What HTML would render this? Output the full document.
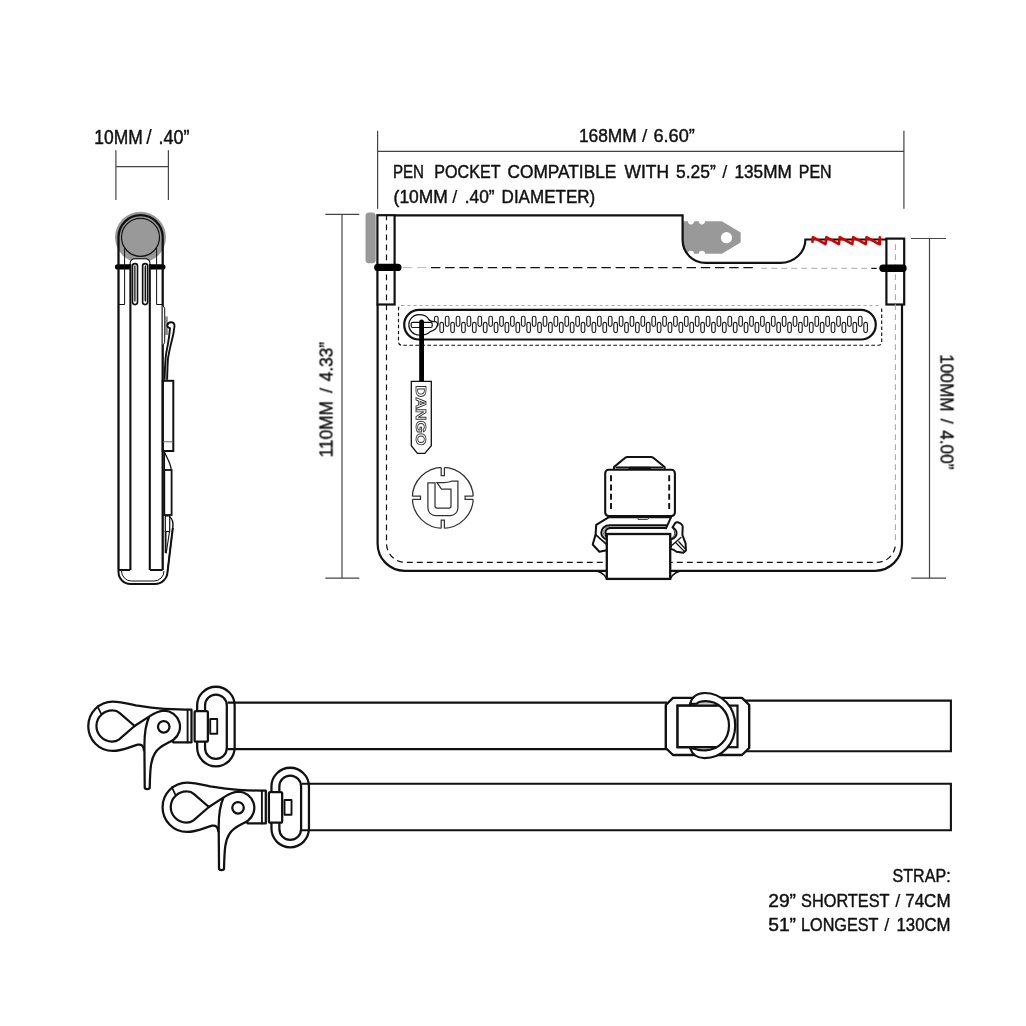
<!DOCTYPE html>
<html lang="en">
<head>
<meta charset="utf-8">
<title>Dango pouch dimensions</title>
<style>
html,body{margin:0;padding:0;background:#fff;}
body{width:1026px;height:1026px;overflow:hidden;}
svg{display:block;}
text{font-family:"Liberation Sans",sans-serif;}
</style>
</head>
<body>
<svg width="1026" height="1026" viewBox="0 0 1026 1026">
<rect width="1026" height="1026" fill="#fff"/>
<g id="labels" font-family="Liberation Sans, sans-serif" opacity="0.999">
<g font-size="19.7" fill="#111" stroke="#111" stroke-width="0.45" stroke-linejoin="round"><text x="94.3" y="144.1" textLength="48.5" lengthAdjust="spacingAndGlyphs">10MM</text> <text x="149.0" y="144.1" text-anchor="middle" stroke-width="0.2">/</text> <text x="158.4" y="144.1" textLength="31.1" lengthAdjust="spacingAndGlyphs">.40&#8221;</text> </g>
<g font-size="19.1" fill="#111" stroke="#111" stroke-width="0.45" stroke-linejoin="round"><text x="578.9" y="141.8" textLength="57.9" lengthAdjust="spacingAndGlyphs">168MM</text> <text x="644.7" y="141.8" text-anchor="middle" stroke-width="0.2">/</text> <text x="653.5" y="141.8" textLength="41.3" lengthAdjust="spacingAndGlyphs">6.60&#8221;</text> </g>
<g font-size="18.2" fill="#111" stroke="#111" stroke-width="0.45" stroke-linejoin="round"><text x="392.9" y="178.4" textLength="31.1" lengthAdjust="spacingAndGlyphs">PEN</text> <text x="434.3" y="178.4" textLength="66.2" lengthAdjust="spacingAndGlyphs">POCKET</text> <text x="507.5" y="178.4" textLength="108.8" lengthAdjust="spacingAndGlyphs">COMPATIBLE</text> <text x="624.6" y="178.4" textLength="44.4" lengthAdjust="spacingAndGlyphs">WITH</text> <text x="676" y="178.4" textLength="39.8" lengthAdjust="spacingAndGlyphs">5.25&#8221;</text> <text x="724.9" y="178.4" text-anchor="middle" stroke-width="0.2">/</text> <text x="734.5" y="178.4" textLength="57.3" lengthAdjust="spacingAndGlyphs">135MM</text> <text x="798.8" y="178.4" textLength="32.8" lengthAdjust="spacingAndGlyphs">PEN</text> </g>
<g font-size="18.2" fill="#111" stroke="#111" stroke-width="0.45" stroke-linejoin="round"><text x="393.6" y="203" textLength="54.2" lengthAdjust="spacingAndGlyphs">(10MM</text> <text x="454.9" y="203" text-anchor="middle" stroke-width="0.2">/</text> <text x="464.7" y="203" textLength="29.9" lengthAdjust="spacingAndGlyphs">.40&#8221;</text> <text x="501.6" y="203" textLength="93.6" lengthAdjust="spacingAndGlyphs">DIAMETER)</text> </g>
<g transform="translate(332.5 457.4) rotate(-90)">
<g font-size="19.2" fill="#111" stroke="#111" stroke-width="0.45" stroke-linejoin="round"><text x="0" y="0" textLength="56.3" lengthAdjust="spacingAndGlyphs">110MM</text> <text x="66.8" y="0" text-anchor="middle" stroke-width="0.2">/</text> <text x="76" y="0" textLength="39.5" lengthAdjust="spacingAndGlyphs">4.33&#8221;</text> </g>
</g>
<g transform="translate(940.5 354.3) rotate(90)">
<g font-size="19.2" fill="#111" stroke="#111" stroke-width="0.45" stroke-linejoin="round"><text x="0" y="0" textLength="57.3" lengthAdjust="spacingAndGlyphs">100MM</text> <text x="66.8" y="0" text-anchor="middle" stroke-width="0.2">/</text> <text x="76.1" y="0" textLength="39.0" lengthAdjust="spacingAndGlyphs">4.00&#8221;</text> </g>
</g>
<g font-size="18.3" fill="#111" stroke="#111" stroke-width="0.45" stroke-linejoin="round"><text x="892.6" y="882.3" textLength="58.0" lengthAdjust="spacingAndGlyphs">STRAP:</text> </g>
<g font-size="18.3" fill="#111" stroke="#111" stroke-width="0.45" stroke-linejoin="round"><text x="768.2" y="906.7" textLength="27.8" lengthAdjust="spacingAndGlyphs">29&#8221;</text> <text x="801" y="906.7" textLength="88.6" lengthAdjust="spacingAndGlyphs">SHORTEST</text> <text x="897.9" y="906.7" text-anchor="middle" stroke-width="0.2">/</text> <text x="905.2" y="906.7" textLength="45.4" lengthAdjust="spacingAndGlyphs">74CM</text> </g>
<g font-size="18.3" fill="#111" stroke="#111" stroke-width="0.45" stroke-linejoin="round"><text x="768.2" y="930.6" textLength="27.8" lengthAdjust="spacingAndGlyphs">51&#8221;</text> <text x="801" y="930.6" textLength="77.5" lengthAdjust="spacingAndGlyphs">LONGEST</text> <text x="886.7" y="930.6" text-anchor="middle" stroke-width="0.2">/</text> <text x="896.5" y="930.6" textLength="54.1" lengthAdjust="spacingAndGlyphs">130CM</text> </g>
</g>
<g id="dims" stroke="#444" stroke-width="1.2" fill="none">
<path d="M115.9 150.2V199.9M168.4 150.2V199.9M115.9 166.6H168.4"/>
<path d="M377.6 130.8V208.7M903.9 130.8V208.7M377.6 151.4H903.9"/>
<path d="M325.3 214.4H359.3M325.3 578.2H359.3M342 214.4V578.2"/>
<path d="M911 238.5H946M911.3 578.2H946M929.5 238.5V578.2"/>
</g>
<g id="side" fill="none" stroke="#111" stroke-linecap="butt">
<circle cx="140.5" cy="237.3" r="25.5" fill="#999" stroke="none"/>
<path d="M117.6 266.9H162.8" stroke-width="5.4" stroke-linecap="round" stroke="#000"/>
<path d="M130.2 304V263.2a4 4 0 0 1 4-4h11.7a4 4 0 0 1 4 4V304z" fill="#fff" stroke="none"/>
<circle cx="140.5" cy="237.3" r="19" stroke-width="1.2"/>
<path d="M118.5 570.1V237.3a22.1 22.1 0 0 1 44.2 0V570.1" stroke-width="2.3"/>
<path d="M124.6 248V304.5H118.5M156.6 248V304.5H162.7" stroke-width="1"/>
<path d="M130.4 570.1V264M149.8 570.1V264" stroke-width="2.1"/>
<path d="M118.5 570.1H130.2M149.9 570.1H162.7" stroke-width="2"/>
<path d="M130.2 264.5V263.2a4.2 4.2 0 0 1 4.2-4.4h11.3a4.2 4.2 0 0 1 4.2 4.4V264.5" stroke-width="1.1"/>
<rect x="132.5" y="263.6" width="5" height="41" rx="2.5" fill="#fff" stroke-width="1.6"/>
<path d="M134.9 265.5V301.5" stroke-width="1.3"/>
<rect x="142.6" y="263.6" width="5" height="41" rx="2.5" fill="#fff" stroke-width="1.6"/>
<path d="M144 266.5V301" stroke-width="1.6" stroke="#888"/>
<path d="M145.5 265.5V301.5" stroke-width="1.1"/>
<path d="M118.5 570V572a12 12 0 0 0 12 12H155a12.5 12.5 0 0 0 12.5-12L172.8 528" stroke-width="2"/>
<path d="M121.5 571a10 10 0 0 0 10 10H154a10 10 0 0 0 10-10" stroke-width="1"/>
<path d="M162.7 305.2l2 3V342.8l-2 2.4" stroke-width="1" fill="#fff"/>
<rect x="164.8" y="316.4" width="3" height="18.6" fill="#888" stroke="none"/>
<path d="M167.1 379.8C167.3 372 167.5 365 168 358.4C169 352 170 348 171 343.7C172.5 338 173.6 334 173.9 330.1C174.3 327 174.8 326 174.4 324.7C173.8 322.8 172.5 322.2 171 322.3C169 322.4 167.8 323.3 167.5 324.7C167.2 326 167.3 326.5 167.5 326.7C168.3 327.6 169.2 328 170 328.1C169.6 333 168.8 339 168 343.7C167 349 166 353 165.6 358.4C165 366 164.7 372 164.6 379.8" fill="#fff" stroke-width="1.9" stroke-linejoin="round"/>
<rect x="162.7" y="380.8" width="10.6" height="70.2" stroke-width="2"/>
<path d="M163 441.8H173" stroke-width="1" stroke="#666"/>
<path d="M164.4 452C167 458 170.6 463 171.2 469.5M164.4 452V470" stroke-width="1.3"/>
<rect x="164.3" y="470" width="7.3" height="45" stroke-width="1.8"/>
<rect x="165.3" y="516" width="4.4" height="15.5" stroke-width="1.2"/>
<path d="M169.7 516.8C172.5 519 173.5 523 172.8 528L167.5 572" stroke-width="1.4"/>
<path d="M165.6 531V553" stroke-width="1.8"/>
<path d="M169.4 532L166.2 553.5" stroke-width="1.1"/>
</g>
<g id="pouch" fill="none" stroke="#111">
<rect x="365.5" y="212.5" width="10.2" height="50.8" rx="3.5" fill="#999" stroke="none"/>
<path d="M682.8 221.3H687.9a3.1 3.1 0 0 0 6.2 0H698.8a3.1 3.1 0 0 0 6.2 0H721.8L740.7 232.6V242.4L721.8 253.8H705a3.1 3.1 0 0 0-6.2 0H694.1a3.1 3.1 0 0 0-6.2 0H687.5A23 23 0 0 1 682.8 239.8z" fill="#999" stroke="none"/>
<circle cx="726.5" cy="237.7" r="5.6" fill="#fff" stroke="none"/>
<path d="M394.6 215.4H682.6V239.9a23 23 0 0 0 23 23H780.4a25 23.4 0 0 0 25-23.4H886.5" stroke-width="2.2"/>
<path d="M377.6 304.5V543.8a27 27 0 0 0 27 27H606.8M670.2 570.8H875a27 27 0 0 0 27-27V304.5" stroke-width="2.2"/>
<path d="M593 570.8c7 0 11 3 13.8 8M684 570.8c-7 0-11 3-13.8 8" stroke-width="1.4"/>
<rect x="377.4" y="215.2" width="17.2" height="89.3" stroke-width="2.2"/>
<rect x="886.4" y="238.6" width="17.8" height="65.9" stroke-width="2.2"/>
<path d="M386.5 214.4V543.4a19 19 0 0 0 19 19H876.5a19 19 0 0 0 19-19" stroke-width="1.2" stroke-dasharray="5.9 4.1"/>
<path d="M895.4 244.2V543" stroke-width="1.1" stroke="#aaa" stroke-dasharray="5.9 4.1"/>
<path d="M402.9 267.6H428" stroke-width="1" stroke="#bbb" stroke-dasharray="9.4 4.8"/>
<path d="M431 267.6H757" stroke-width="1.2" stroke-dasharray="9.4 4.8"/>
<path d="M761.3 268.4H868" stroke-width="1.1" stroke="#bbb" stroke-dasharray="5.9 4.1"/>
<path d="M871.3 268.4H876.8" stroke-width="1.2"/>
<path d="M377.8 267.4H397.8" stroke-width="7.4" stroke-linecap="round" stroke="#000"/>
<path d="M883 268.2H903" stroke-width="7.4" stroke-linecap="round" stroke="#000"/>
<path d="M812.4 241.8L812.9 237.2L825.5 244.2L826.3 237.2L838.9 244.2L839.7 237.2L852.3 244.2L853.1 237.2L865.7 244.2L866.5 237.2L879.1 244.2L879.9 237.2L879.9 244.2" stroke="#d40000" stroke-width="2.6" stroke-linejoin="round" stroke-linecap="round"/>
<path d="M401.5 305.5H878.7" stroke="#aaa" stroke-width="1" stroke-dasharray="3.1 2.9"/>
<path d="M881.7 308.5V342.2a3 3 0 0 1-3 3H401.5a3 3 0 0 1-3-3V308.5a3 3 0 0 1 3-3" stroke-width="1.15" stroke-dasharray="3.6 2.4"/>
<rect x="404.2" y="309.9" width="471.6" height="29.6" rx="14.8" stroke-width="2.2"/>
<g stroke="#222" stroke-width="1.15" fill="#fff">
<rect x="434.50" y="316.2" width="3.6" height="10.2" rx="1.8"/>
<rect x="445.37" y="316.2" width="3.6" height="10.2" rx="1.8"/>
<rect x="456.24" y="316.2" width="3.6" height="10.2" rx="1.8"/>
<rect x="467.11" y="316.2" width="3.6" height="10.2" rx="1.8"/>
<rect x="477.98" y="316.2" width="3.6" height="10.2" rx="1.8"/>
<rect x="488.85" y="316.2" width="3.6" height="10.2" rx="1.8"/>
<rect x="499.72" y="316.2" width="3.6" height="10.2" rx="1.8"/>
<rect x="510.59" y="316.2" width="3.6" height="10.2" rx="1.8"/>
<rect x="521.46" y="316.2" width="3.6" height="10.2" rx="1.8"/>
<rect x="532.33" y="316.2" width="3.6" height="10.2" rx="1.8"/>
<rect x="543.20" y="316.2" width="3.6" height="10.2" rx="1.8"/>
<rect x="554.07" y="316.2" width="3.6" height="10.2" rx="1.8"/>
<rect x="564.94" y="316.2" width="3.6" height="10.2" rx="1.8"/>
<rect x="575.81" y="316.2" width="3.6" height="10.2" rx="1.8"/>
<rect x="586.68" y="316.2" width="3.6" height="10.2" rx="1.8"/>
<rect x="597.55" y="316.2" width="3.6" height="10.2" rx="1.8"/>
<rect x="608.42" y="316.2" width="3.6" height="10.2" rx="1.8"/>
<rect x="619.29" y="316.2" width="3.6" height="10.2" rx="1.8"/>
<rect x="630.16" y="316.2" width="3.6" height="10.2" rx="1.8"/>
<rect x="641.03" y="316.2" width="3.6" height="10.2" rx="1.8"/>
<rect x="651.90" y="316.2" width="3.6" height="10.2" rx="1.8"/>
<rect x="662.77" y="316.2" width="3.6" height="10.2" rx="1.8"/>
<rect x="673.64" y="316.2" width="3.6" height="10.2" rx="1.8"/>
<rect x="684.51" y="316.2" width="3.6" height="10.2" rx="1.8"/>
<rect x="695.38" y="316.2" width="3.6" height="10.2" rx="1.8"/>
<rect x="706.25" y="316.2" width="3.6" height="10.2" rx="1.8"/>
<rect x="717.12" y="316.2" width="3.6" height="10.2" rx="1.8"/>
<rect x="727.99" y="316.2" width="3.6" height="10.2" rx="1.8"/>
<rect x="738.86" y="316.2" width="3.6" height="10.2" rx="1.8"/>
<rect x="749.73" y="316.2" width="3.6" height="10.2" rx="1.8"/>
<rect x="760.60" y="316.2" width="3.6" height="10.2" rx="1.8"/>
<rect x="771.47" y="316.2" width="3.6" height="10.2" rx="1.8"/>
<rect x="782.34" y="316.2" width="3.6" height="10.2" rx="1.8"/>
<rect x="793.21" y="316.2" width="3.6" height="10.2" rx="1.8"/>
<rect x="804.08" y="316.2" width="3.6" height="10.2" rx="1.8"/>
<rect x="814.95" y="316.2" width="3.6" height="10.2" rx="1.8"/>
<rect x="825.82" y="316.2" width="3.6" height="10.2" rx="1.8"/>
<rect x="836.69" y="316.2" width="3.6" height="10.2" rx="1.8"/>
<rect x="847.56" y="316.2" width="3.6" height="10.2" rx="1.8"/>
<rect x="858.43" y="316.2" width="3.6" height="10.2" rx="1.8"/>
<rect x="439.90" y="322.4" width="3.6" height="10.2" rx="1.8"/>
<rect x="450.77" y="322.4" width="3.6" height="10.2" rx="1.8"/>
<rect x="461.64" y="322.4" width="3.6" height="10.2" rx="1.8"/>
<rect x="472.51" y="322.4" width="3.6" height="10.2" rx="1.8"/>
<rect x="483.38" y="322.4" width="3.6" height="10.2" rx="1.8"/>
<rect x="494.25" y="322.4" width="3.6" height="10.2" rx="1.8"/>
<rect x="505.12" y="322.4" width="3.6" height="10.2" rx="1.8"/>
<rect x="515.99" y="322.4" width="3.6" height="10.2" rx="1.8"/>
<rect x="526.86" y="322.4" width="3.6" height="10.2" rx="1.8"/>
<rect x="537.73" y="322.4" width="3.6" height="10.2" rx="1.8"/>
<rect x="548.60" y="322.4" width="3.6" height="10.2" rx="1.8"/>
<rect x="559.47" y="322.4" width="3.6" height="10.2" rx="1.8"/>
<rect x="570.34" y="322.4" width="3.6" height="10.2" rx="1.8"/>
<rect x="581.21" y="322.4" width="3.6" height="10.2" rx="1.8"/>
<rect x="592.08" y="322.4" width="3.6" height="10.2" rx="1.8"/>
<rect x="602.95" y="322.4" width="3.6" height="10.2" rx="1.8"/>
<rect x="613.82" y="322.4" width="3.6" height="10.2" rx="1.8"/>
<rect x="624.69" y="322.4" width="3.6" height="10.2" rx="1.8"/>
<rect x="635.56" y="322.4" width="3.6" height="10.2" rx="1.8"/>
<rect x="646.43" y="322.4" width="3.6" height="10.2" rx="1.8"/>
<rect x="657.30" y="322.4" width="3.6" height="10.2" rx="1.8"/>
<rect x="668.17" y="322.4" width="3.6" height="10.2" rx="1.8"/>
<rect x="679.04" y="322.4" width="3.6" height="10.2" rx="1.8"/>
<rect x="689.91" y="322.4" width="3.6" height="10.2" rx="1.8"/>
<rect x="700.78" y="322.4" width="3.6" height="10.2" rx="1.8"/>
<rect x="711.65" y="322.4" width="3.6" height="10.2" rx="1.8"/>
<rect x="722.52" y="322.4" width="3.6" height="10.2" rx="1.8"/>
<rect x="733.39" y="322.4" width="3.6" height="10.2" rx="1.8"/>
<rect x="744.26" y="322.4" width="3.6" height="10.2" rx="1.8"/>
<rect x="755.13" y="322.4" width="3.6" height="10.2" rx="1.8"/>
<rect x="766.00" y="322.4" width="3.6" height="10.2" rx="1.8"/>
<rect x="776.87" y="322.4" width="3.6" height="10.2" rx="1.8"/>
<rect x="787.74" y="322.4" width="3.6" height="10.2" rx="1.8"/>
<rect x="798.61" y="322.4" width="3.6" height="10.2" rx="1.8"/>
<rect x="809.48" y="322.4" width="3.6" height="10.2" rx="1.8"/>
<rect x="820.35" y="322.4" width="3.6" height="10.2" rx="1.8"/>
<rect x="831.22" y="322.4" width="3.6" height="10.2" rx="1.8"/>
<rect x="842.09" y="322.4" width="3.6" height="10.2" rx="1.8"/>
<rect x="852.96" y="322.4" width="3.6" height="10.2" rx="1.8"/>
<rect x="863.83" y="322.4" width="3.6" height="10.2" rx="1.8"/>
</g>
<path d="M419 314.6c5 0 8 1.5 9.5 4.5 1.2 2 3.5 2.6 6 2.4 2.5 0 3.3 1.6 3 3.3-.3 2-1.5 4-4 5.5-1.5 1-3 .8-4.2 2-2 2.2-6 2.7-10.3 2.7a10.2 10.2 0 0 1 0-20.4z" fill="#fff" stroke-width="1.2"/>
<rect x="411.2" y="322.3" width="21" height="5.2" rx="1.5" stroke-width="1.2"/>
<path d="M421.6 321.8V382" stroke-width="4.8" stroke-linecap="round" stroke="#000"/>
<path d="M411.3 381.3H431.3V445.7L424.8 453.4H417.4L411.3 445.7z" fill="#fff" stroke-width="1.3"/>
</g>
<text transform="translate(416.2 385.5) rotate(90)" font-family="Liberation Sans, sans-serif" font-size="14.5" font-weight="bold" textLength="60" lengthAdjust="spacingAndGlyphs" fill="#fff" stroke="#333" stroke-width="0.85" opacity="0.999">DANGO</text>
<g id="logo" fill="none" stroke="#333" stroke-width="1.25">
<circle cx="442.8" cy="497.8" r="30.5"/>
<g transform="rotate(0 442.8 497.8)"><rect x="441.2" y="465" width="3.2" height="10.5" fill="#fff" stroke="none"/><path d="M441.2 467.4V475.5H444.4V467.4"/></g>
<g transform="rotate(90 442.8 497.8)"><rect x="441.2" y="465" width="3.2" height="10.5" fill="#fff" stroke="none"/><path d="M441.2 467.4V475.5H444.4V467.4"/></g>
<g transform="rotate(180 442.8 497.8)"><rect x="441.2" y="465" width="3.2" height="10.5" fill="#fff" stroke="none"/><path d="M441.2 467.4V475.5H444.4V467.4"/></g>
<g transform="rotate(270 442.8 497.8)"><rect x="441.2" y="465" width="3.2" height="10.5" fill="#fff" stroke="none"/><path d="M441.2 467.4V475.5H444.4V467.4"/></g>
<path d="M427.9 482.8H435V506a2 2 0 0 0 2 2h12a2 2 0 0 0 2-2V489.2H441.5L437 482.6c6 .3 12-.2 15-1.6H457.9V508a7.6 7.6 0 0 1-7.6 7.6H435.5a7.6 7.6 0 0 1-7.6-7.6z"/>
</g>
<g id="buckle" fill="none" stroke="#111" stroke-linejoin="round" stroke-linecap="round">
<path d="M614 469.7V467L625.2 457.8Q626.2 457 627.5 457H651Q652.3 457 653.3 457.8L664.6 467V469.7" fill="#fff" stroke-width="2.1"/>
<path d="M616.5 467.6H662.5" stroke-width="2"/>
<path d="M630 468.2H649.5" stroke-width="3"/>
<path d="M608.5 517.3L596.2 524.9L595.6 534.6L592.7 544.5L599.4 551.8L606.7 550.2V534H666V528.4L671 517.9z" fill="#fff" stroke="none"/>
<path d="M606.7 550.2L599.4 551.8L592.7 544.5L595.6 534.6L596.2 524.9L608.5 517.3H671L666 528.4" stroke-width="2"/>
<path d="M595.6 534.6L606 543.8" stroke-width="1.7"/>
<path d="M666.3 525.2H610C604.5 525.2 601.3 528.6 601.3 532.6C601.3 535.4 602.8 537.6 605.3 539" stroke-width="2"/>
<path d="M666 527.9H611C607.5 527.9 605.3 530 605.4 532.6L606 536" stroke-width="2.1"/>
<path d="M609.5 526.6C605.5 527 603.4 529.8 603.4 532.6C603.4 534.6 604.3 536.3 605.8 537.5" stroke-width="0.8" stroke="#555"/>
<path d="M638 517.3V519.5H647.6L649.4 517.3" stroke="#333" stroke-width="0.9"/>
<path d="M672.5 527.5L675.1 523.2Q676.2 522 677.6 522.2Q679.8 522.6 680.9 523.7Q682.6 525 682.7 526.8L682.4 535.1L685.6 543.3L685.9 550.4L683.3 552.7L676.5 551.8L673.6 549.8L670.7 548.6V539.5C673 539.2 674.6 538.2 675.5 536.6C676.8 534.4 676.8 531.8 675.6 530C674.8 528.8 673.8 528 672.5 527.5z" fill="#fff" stroke-width="2"/>
<path d="M673.3 529C674.6 530.6 675 533 674.2 535.2C673.6 536.8 672.4 537.8 670.9 538.2" stroke-width="1" stroke="#333"/>
<path d="M680.9 537.5L670.9 546.2M676.3 543.3L684.6 551.6M678.8 541.8L685.8 549.4" stroke-width="1.3"/>
<rect x="605.2" y="469.8" width="69.7" height="46.3" rx="3.5" fill="#fff" stroke-width="2.1"/>
<path d="M611 475.3V511.5M669.2 475.3V511.5" stroke-width="1.9" stroke-dasharray="6 3.2" stroke-linecap="butt"/>
<rect x="606.8" y="534" width="63.4" height="44.9" fill="#fff" stroke-width="2.3" stroke-linejoin="miter"/>
</g>
<g id="straps">
<g transform="translate(154.3 761) scale(0.155945)" fill="#fff" stroke="#111" stroke-width="14.5" stroke-linejoin="round" stroke-linecap="round">
<rect x="751.3" y="43.3" width="240.4" height="510.4" rx="120.2"/>
<rect x="802" y="93.6" width="139.4" height="412.4" rx="69.7"/>
<path d="M715 190C650 190 600 188 540 185C470 180 420 173 370 165C310 152 260 138 210 138A157 158.5 0 0 0 210 455C270 455 320 428 370 415C395 410 408 425 410 450L430 470L560 360L600 400H715z"/>
<path d="M210 195A102 100 0 0 0 205 395C235 395 245 385 255 378L350 295L255 212C245 203 230 195 210 195z"/>
<path d="M112 168L135 215" fill="none" stroke-width="11"/>
<path d="M690 190V400" fill="none" stroke-width="12"/>
<path d="M350 295L445 233C480 210 510 198 540 196A104 104 0 0 1 600 383C560 410 510 420 480 470C455 510 450 560 447 690A16 10 0 0 1 415 690L413 420C413 370 418 290 445 233" />
<circle cx="537" cy="300" r="37"/>
<rect x="735" y="200" width="85" height="195" rx="9"/>
<rect x="835" y="250" width="45" height="95" stroke-width="12"/>
</g>
<path d="M301.9 783.8H950.9V830.3H301.9" fill="none" stroke="#111" stroke-width="2.1"/>
<g transform="translate(80 680) scale(0.155945)" fill="#fff" stroke="#111" stroke-width="14.5" stroke-linejoin="round" stroke-linecap="round">
<rect x="751.3" y="43.3" width="240.4" height="510.4" rx="120.2"/>
<rect x="802" y="93.6" width="139.4" height="412.4" rx="69.7"/>
<path d="M715 190C650 190 600 188 540 185C470 180 420 173 370 165C310 152 260 138 210 138A157 158.5 0 0 0 210 455C270 455 320 428 370 415C395 410 408 425 410 450L430 470L560 360L600 400H715z"/>
<path d="M210 195A102 100 0 0 0 205 395C235 395 245 385 255 378L350 295L255 212C245 203 230 195 210 195z"/>
<path d="M112 168L135 215" fill="none" stroke-width="11"/>
<path d="M690 190V400" fill="none" stroke-width="12"/>
<path d="M350 295L445 233C480 210 510 198 540 196A104 104 0 0 1 600 383C560 410 510 420 480 470C455 510 450 560 447 690A16 10 0 0 1 415 690L413 420C413 370 418 290 445 233" />
<circle cx="537" cy="300" r="37"/>
<rect x="735" y="200" width="85" height="195" rx="9"/>
<rect x="835" y="250" width="45" height="95" stroke-width="12"/>
</g>
<path d="M227.6 702.6H667M227.6 749.1H667" stroke="#111" stroke-width="2.1" fill="none"/>
<path d="M744 700.6H950.9V751.3H744" stroke="#111" stroke-width="2.1" fill="none"/>
<path d="M673 697.9H742L749.2 705V748L742 755H673L665.8 748V705z" fill="#fff" stroke="#111" stroke-width="2.4" stroke-linejoin="round"/>
<rect x="677.5" y="705.6" width="60" height="41.6" fill="#fff" stroke="#111" stroke-width="2.2"/>
<path d="M697.5 705C699.5 702.6 702 701.5 705.5 701.4C709 701.4 711.5 702.6 713.5 705zM697.5 747.8C699.5 750 702 750.4 705.5 750.4C709 750.4 711.5 749.6 713.5 747.8z" fill="#ccc"/>
<path d="M690 704C692 697 697 693 704.5 693 722 693 735.2 707 735.2 725.4 735.2 744 722 758.1 704.5 758.1 697 758.1 692 754 690 748L697 749.5C699 750.3 702 750.3 705.5 750.3 718 750.3 729 740 729 725.4 729 711 718 701.2 705.5 701.2 702 701.2 699 701.5 697 703.5z" fill="#fff" stroke="#111" stroke-width="2.2"/>
<rect x="678.5" y="706.6" width="36" height="39.6" fill="#fff"/>
<path d="M716.5 705.6H677.5V747.2H716.5" fill="none" stroke="#111" stroke-width="2.2"/>
</g>
</svg>
</body>
</html>
